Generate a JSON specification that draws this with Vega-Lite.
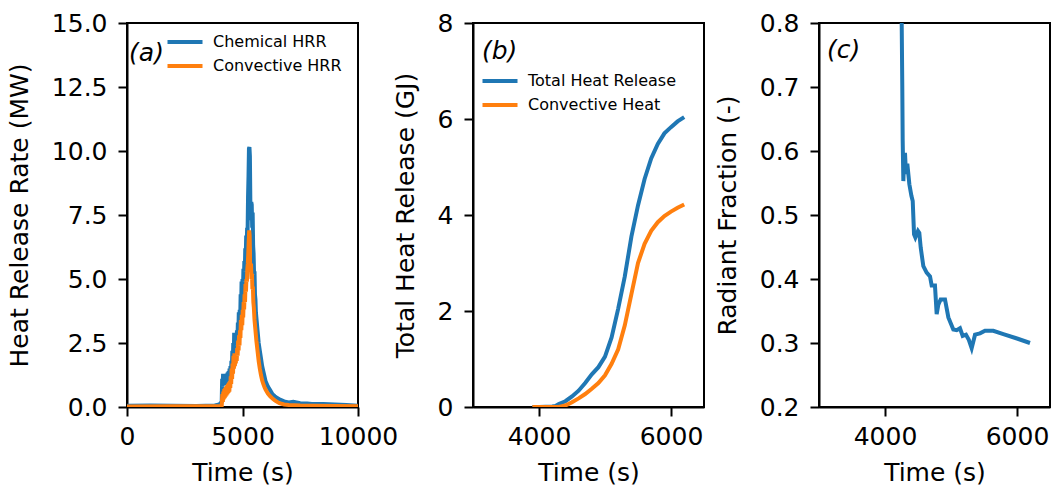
{
  "$schema": "https://vega.github.io/schema/vega-lite/v6.json",
  "padding": {"left": 6, "top": 10, "right": 0, "bottom": 0},
  "background": "white",
  "config": {
    "font": "DejaVu Sans",
    "view": {"stroke": "black", "strokeWidth": 2},
    "axis": {
      "grid": false,
      "domainColor": "black", "domainWidth": 2,
      "tickColor": "black", "tickWidth": 2, "tickSize": 9,
      "labelFontSize": 25, "titleFontSize": 25,
      "labelColor": "black", "titleColor": "black",
      "titleFontWeight": "normal",
      "labelFont": "DejaVu Sans", "titleFont": "DejaVu Sans",
      "labelFlush": false
    },
    "axisX": {"labelPadding": 8, "titlePadding": 11},
    "axisY": {"labelPadding": 11, "titlePadding": 19},
    "legend": {
      "labelFontSize": 16, "labelFont": "DejaVu Sans", "labelColor": "black",
      "symbolType": "M-1.75,0L1.75,0", "symbolStrokeWidth": 4, "symbolSize": 400,
      "labelOffset": 16, "rowPadding": 4, "padding": 0, "title": null,
      "orient": "none"
    },
    "line": {"strokeWidth": 4}
  },
  "datasets": {
    "hrr": [
      {"t": 0, "series": "Chemical HRR", "v": 0.05},
      {"t": 1000, "series": "Chemical HRR", "v": 0.06},
      {"t": 2000, "series": "Chemical HRR", "v": 0.05},
      {"t": 3000, "series": "Chemical HRR", "v": 0.04},
      {"t": 3800, "series": "Chemical HRR", "v": 0.06},
      {"t": 4000, "series": "Chemical HRR", "v": 0.1},
      {"t": 4100, "series": "Chemical HRR", "v": 0.2},
      {"t": 4120, "series": "Chemical HRR", "v": 1.1},
      {"t": 4140, "series": "Chemical HRR", "v": 0.8},
      {"t": 4160, "series": "Chemical HRR", "v": 1.3},
      {"t": 4180, "series": "Chemical HRR", "v": 0.9},
      {"t": 4200, "series": "Chemical HRR", "v": 1.2},
      {"t": 4220, "series": "Chemical HRR", "v": 0.85},
      {"t": 4240, "series": "Chemical HRR", "v": 1.25},
      {"t": 4260, "series": "Chemical HRR", "v": 0.9},
      {"t": 4280, "series": "Chemical HRR", "v": 1.2},
      {"t": 4300, "series": "Chemical HRR", "v": 0.95},
      {"t": 4320, "series": "Chemical HRR", "v": 1.3},
      {"t": 4340, "series": "Chemical HRR", "v": 1.0},
      {"t": 4360, "series": "Chemical HRR", "v": 1.35},
      {"t": 4380, "series": "Chemical HRR", "v": 1.05},
      {"t": 4400, "series": "Chemical HRR", "v": 1.4},
      {"t": 4420, "series": "Chemical HRR", "v": 1.1},
      {"t": 4440, "series": "Chemical HRR", "v": 1.5},
      {"t": 4460, "series": "Chemical HRR", "v": 1.2},
      {"t": 4480, "series": "Chemical HRR", "v": 1.6},
      {"t": 4500, "series": "Chemical HRR", "v": 1.3},
      {"t": 4520, "series": "Chemical HRR", "v": 1.8},
      {"t": 4540, "series": "Chemical HRR", "v": 1.5},
      {"t": 4560, "series": "Chemical HRR", "v": 2.2},
      {"t": 4580, "series": "Chemical HRR", "v": 1.7},
      {"t": 4600, "series": "Chemical HRR", "v": 2.5},
      {"t": 4620, "series": "Chemical HRR", "v": 1.9},
      {"t": 4640, "series": "Chemical HRR", "v": 2.9},
      {"t": 4660, "series": "Chemical HRR", "v": 2.1},
      {"t": 4680, "series": "Chemical HRR", "v": 2.9},
      {"t": 4700, "series": "Chemical HRR", "v": 2.2},
      {"t": 4720, "series": "Chemical HRR", "v": 2.7},
      {"t": 4740, "series": "Chemical HRR", "v": 2.4},
      {"t": 4760, "series": "Chemical HRR", "v": 3.0},
      {"t": 4780, "series": "Chemical HRR", "v": 2.6},
      {"t": 4800, "series": "Chemical HRR", "v": 3.3},
      {"t": 4820, "series": "Chemical HRR", "v": 2.8},
      {"t": 4840, "series": "Chemical HRR", "v": 3.7},
      {"t": 4860, "series": "Chemical HRR", "v": 3.1},
      {"t": 4880, "series": "Chemical HRR", "v": 3.8},
      {"t": 4900, "series": "Chemical HRR", "v": 3.4},
      {"t": 4920, "series": "Chemical HRR", "v": 4.4},
      {"t": 4940, "series": "Chemical HRR", "v": 3.8},
      {"t": 4960, "series": "Chemical HRR", "v": 4.9},
      {"t": 4980, "series": "Chemical HRR", "v": 4.2},
      {"t": 5000, "series": "Chemical HRR", "v": 5.0},
      {"t": 5020, "series": "Chemical HRR", "v": 4.5},
      {"t": 5040, "series": "Chemical HRR", "v": 5.4},
      {"t": 5060, "series": "Chemical HRR", "v": 4.9},
      {"t": 5080, "series": "Chemical HRR", "v": 5.7},
      {"t": 5100, "series": "Chemical HRR", "v": 5.3},
      {"t": 5120, "series": "Chemical HRR", "v": 6.2},
      {"t": 5140, "series": "Chemical HRR", "v": 5.8},
      {"t": 5160, "series": "Chemical HRR", "v": 6.7},
      {"t": 5180, "series": "Chemical HRR", "v": 6.2},
      {"t": 5200, "series": "Chemical HRR", "v": 7.0},
      {"t": 5220, "series": "Chemical HRR", "v": 6.8},
      {"t": 5240, "series": "Chemical HRR", "v": 8.2},
      {"t": 5260, "series": "Chemical HRR", "v": 9.0},
      {"t": 5280, "series": "Chemical HRR", "v": 10.1},
      {"t": 5300, "series": "Chemical HRR", "v": 10.15},
      {"t": 5320, "series": "Chemical HRR", "v": 9.8},
      {"t": 5340, "series": "Chemical HRR", "v": 8.0},
      {"t": 5360, "series": "Chemical HRR", "v": 7.3},
      {"t": 5380, "series": "Chemical HRR", "v": 8.0},
      {"t": 5400, "series": "Chemical HRR", "v": 7.9},
      {"t": 5420, "series": "Chemical HRR", "v": 7.0},
      {"t": 5440, "series": "Chemical HRR", "v": 7.6},
      {"t": 5460, "series": "Chemical HRR", "v": 6.3},
      {"t": 5480, "series": "Chemical HRR", "v": 6.0},
      {"t": 5500, "series": "Chemical HRR", "v": 5.2},
      {"t": 5520, "series": "Chemical HRR", "v": 5.3},
      {"t": 5540, "series": "Chemical HRR", "v": 4.4},
      {"t": 5560, "series": "Chemical HRR", "v": 4.2},
      {"t": 5580, "series": "Chemical HRR", "v": 3.7},
      {"t": 5600, "series": "Chemical HRR", "v": 3.5},
      {"t": 5650, "series": "Chemical HRR", "v": 3.0},
      {"t": 5700, "series": "Chemical HRR", "v": 2.5},
      {"t": 5750, "series": "Chemical HRR", "v": 2.2},
      {"t": 5800, "series": "Chemical HRR", "v": 1.9},
      {"t": 5850, "series": "Chemical HRR", "v": 1.6},
      {"t": 5900, "series": "Chemical HRR", "v": 1.4},
      {"t": 5950, "series": "Chemical HRR", "v": 1.2},
      {"t": 6000, "series": "Chemical HRR", "v": 1.0},
      {"t": 6100, "series": "Chemical HRR", "v": 0.8},
      {"t": 6200, "series": "Chemical HRR", "v": 0.65},
      {"t": 6300, "series": "Chemical HRR", "v": 0.5},
      {"t": 6400, "series": "Chemical HRR", "v": 0.42},
      {"t": 6500, "series": "Chemical HRR", "v": 0.35},
      {"t": 6600, "series": "Chemical HRR", "v": 0.3},
      {"t": 6800, "series": "Chemical HRR", "v": 0.22},
      {"t": 7000, "series": "Chemical HRR", "v": 0.18},
      {"t": 7200, "series": "Chemical HRR", "v": 0.2},
      {"t": 7500, "series": "Chemical HRR", "v": 0.15},
      {"t": 7800, "series": "Chemical HRR", "v": 0.14},
      {"t": 8000, "series": "Chemical HRR", "v": 0.12},
      {"t": 8500, "series": "Chemical HRR", "v": 0.12},
      {"t": 9000, "series": "Chemical HRR", "v": 0.1},
      {"t": 9500, "series": "Chemical HRR", "v": 0.08},
      {"t": 10000, "series": "Chemical HRR", "v": 0.05},
      {"t": 0, "series": "Convective HRR", "v": 0.02},
      {"t": 2000, "series": "Convective HRR", "v": 0.03},
      {"t": 4000, "series": "Convective HRR", "v": 0.03},
      {"t": 4100, "series": "Convective HRR", "v": 0.05},
      {"t": 4130, "series": "Convective HRR", "v": 0.5},
      {"t": 4150, "series": "Convective HRR", "v": 0.2},
      {"t": 4170, "series": "Convective HRR", "v": 0.6},
      {"t": 4190, "series": "Convective HRR", "v": 0.3},
      {"t": 4210, "series": "Convective HRR", "v": 0.7},
      {"t": 4230, "series": "Convective HRR", "v": 0.35},
      {"t": 4250, "series": "Convective HRR", "v": 0.75},
      {"t": 4270, "series": "Convective HRR", "v": 0.4},
      {"t": 4290, "series": "Convective HRR", "v": 0.8},
      {"t": 4310, "series": "Convective HRR", "v": 0.45},
      {"t": 4330, "series": "Convective HRR", "v": 0.85},
      {"t": 4350, "series": "Convective HRR", "v": 0.5},
      {"t": 4370, "series": "Convective HRR", "v": 0.9},
      {"t": 4390, "series": "Convective HRR", "v": 0.55},
      {"t": 4410, "series": "Convective HRR", "v": 0.95},
      {"t": 4430, "series": "Convective HRR", "v": 0.6},
      {"t": 4450, "series": "Convective HRR", "v": 1.0},
      {"t": 4470, "series": "Convective HRR", "v": 0.75},
      {"t": 4490, "series": "Convective HRR", "v": 1.2},
      {"t": 4510, "series": "Convective HRR", "v": 0.9},
      {"t": 4530, "series": "Convective HRR", "v": 1.5},
      {"t": 4550, "series": "Convective HRR", "v": 1.1},
      {"t": 4570, "series": "Convective HRR", "v": 1.7},
      {"t": 4590, "series": "Convective HRR", "v": 1.3},
      {"t": 4610, "series": "Convective HRR", "v": 2.0},
      {"t": 4630, "series": "Convective HRR", "v": 1.5},
      {"t": 4650, "series": "Convective HRR", "v": 2.1},
      {"t": 4670, "series": "Convective HRR", "v": 1.6},
      {"t": 4690, "series": "Convective HRR", "v": 2.0},
      {"t": 4710, "series": "Convective HRR", "v": 1.7},
      {"t": 4730, "series": "Convective HRR", "v": 2.1},
      {"t": 4750, "series": "Convective HRR", "v": 1.8},
      {"t": 4770, "series": "Convective HRR", "v": 2.3},
      {"t": 4790, "series": "Convective HRR", "v": 2.0},
      {"t": 4810, "series": "Convective HRR", "v": 2.6},
      {"t": 4830, "series": "Convective HRR", "v": 2.2},
      {"t": 4850, "series": "Convective HRR", "v": 2.8},
      {"t": 4870, "series": "Convective HRR", "v": 2.4},
      {"t": 4890, "series": "Convective HRR", "v": 3.0},
      {"t": 4910, "series": "Convective HRR", "v": 2.7},
      {"t": 4930, "series": "Convective HRR", "v": 3.4},
      {"t": 4950, "series": "Convective HRR", "v": 3.0},
      {"t": 4970, "series": "Convective HRR", "v": 3.6},
      {"t": 4990, "series": "Convective HRR", "v": 3.2},
      {"t": 5010, "series": "Convective HRR", "v": 3.8},
      {"t": 5030, "series": "Convective HRR", "v": 3.5},
      {"t": 5050, "series": "Convective HRR", "v": 4.1},
      {"t": 5070, "series": "Convective HRR", "v": 3.8},
      {"t": 5090, "series": "Convective HRR", "v": 4.4},
      {"t": 5110, "series": "Convective HRR", "v": 4.1},
      {"t": 5130, "series": "Convective HRR", "v": 4.8},
      {"t": 5150, "series": "Convective HRR", "v": 4.5},
      {"t": 5170, "series": "Convective HRR", "v": 5.0},
      {"t": 5190, "series": "Convective HRR", "v": 4.9},
      {"t": 5210, "series": "Convective HRR", "v": 5.4},
      {"t": 5230, "series": "Convective HRR", "v": 5.6},
      {"t": 5250, "series": "Convective HRR", "v": 6.0},
      {"t": 5270, "series": "Convective HRR", "v": 6.5},
      {"t": 5290, "series": "Convective HRR", "v": 6.9},
      {"t": 5310, "series": "Convective HRR", "v": 6.7},
      {"t": 5330, "series": "Convective HRR", "v": 5.5},
      {"t": 5350, "series": "Convective HRR", "v": 5.3},
      {"t": 5370, "series": "Convective HRR", "v": 5.6},
      {"t": 5390, "series": "Convective HRR", "v": 5.0},
      {"t": 5410, "series": "Convective HRR", "v": 5.2},
      {"t": 5430, "series": "Convective HRR", "v": 4.6},
      {"t": 5450, "series": "Convective HRR", "v": 4.7},
      {"t": 5470, "series": "Convective HRR", "v": 4.1},
      {"t": 5490, "series": "Convective HRR", "v": 3.9},
      {"t": 5520, "series": "Convective HRR", "v": 3.4},
      {"t": 5550, "series": "Convective HRR", "v": 3.1},
      {"t": 5600, "series": "Convective HRR", "v": 2.6},
      {"t": 5650, "series": "Convective HRR", "v": 2.2},
      {"t": 5700, "series": "Convective HRR", "v": 1.8},
      {"t": 5750, "series": "Convective HRR", "v": 1.5},
      {"t": 5800, "series": "Convective HRR", "v": 1.25},
      {"t": 5850, "series": "Convective HRR", "v": 1.05},
      {"t": 5900, "series": "Convective HRR", "v": 0.9},
      {"t": 5950, "series": "Convective HRR", "v": 0.78},
      {"t": 6000, "series": "Convective HRR", "v": 0.68},
      {"t": 6100, "series": "Convective HRR", "v": 0.52},
      {"t": 6200, "series": "Convective HRR", "v": 0.42},
      {"t": 6300, "series": "Convective HRR", "v": 0.33},
      {"t": 6400, "series": "Convective HRR", "v": 0.26},
      {"t": 6500, "series": "Convective HRR", "v": 0.2},
      {"t": 6600, "series": "Convective HRR", "v": 0.15},
      {"t": 6800, "series": "Convective HRR", "v": 0.1},
      {"t": 7000, "series": "Convective HRR", "v": 0.08},
      {"t": 7500, "series": "Convective HRR", "v": 0.06},
      {"t": 8000, "series": "Convective HRR", "v": 0.05},
      {"t": 9000, "series": "Convective HRR", "v": 0.04},
      {"t": 10000, "series": "Convective HRR", "v": 0.03}
    ],
    "heat": [
      {"t": 3900, "series": "Total Heat Release", "v": 0},
      {"t": 4000, "series": "Total Heat Release", "v": 0},
      {"t": 4100, "series": "Total Heat Release", "v": 0.005},
      {"t": 4200, "series": "Total Heat Release", "v": 0.01},
      {"t": 4250, "series": "Total Heat Release", "v": 0.02},
      {"t": 4300, "series": "Total Heat Release", "v": 0.06},
      {"t": 4400, "series": "Total Heat Release", "v": 0.12},
      {"t": 4500, "series": "Total Heat Release", "v": 0.22},
      {"t": 4600, "series": "Total Heat Release", "v": 0.34},
      {"t": 4700, "series": "Total Heat Release", "v": 0.5},
      {"t": 4800, "series": "Total Heat Release", "v": 0.68},
      {"t": 4900, "series": "Total Heat Release", "v": 0.83},
      {"t": 5000, "series": "Total Heat Release", "v": 1.05},
      {"t": 5100, "series": "Total Heat Release", "v": 1.45},
      {"t": 5200, "series": "Total Heat Release", "v": 2.05},
      {"t": 5300, "series": "Total Heat Release", "v": 2.72},
      {"t": 5400, "series": "Total Heat Release", "v": 3.55},
      {"t": 5500, "series": "Total Heat Release", "v": 4.2},
      {"t": 5600, "series": "Total Heat Release", "v": 4.75},
      {"t": 5700, "series": "Total Heat Release", "v": 5.18},
      {"t": 5800, "series": "Total Heat Release", "v": 5.48},
      {"t": 5900, "series": "Total Heat Release", "v": 5.7},
      {"t": 6000, "series": "Total Heat Release", "v": 5.83},
      {"t": 6100, "series": "Total Heat Release", "v": 5.95},
      {"t": 6200, "series": "Total Heat Release", "v": 6.04},
      {"t": 3900, "series": "Convective Heat", "v": 0},
      {"t": 4300, "series": "Convective Heat", "v": 0},
      {"t": 4400, "series": "Convective Heat", "v": 0.03},
      {"t": 4500, "series": "Convective Heat", "v": 0.1},
      {"t": 4600, "series": "Convective Heat", "v": 0.18},
      {"t": 4700, "series": "Convective Heat", "v": 0.27},
      {"t": 4800, "series": "Convective Heat", "v": 0.38},
      {"t": 4900, "series": "Convective Heat", "v": 0.5},
      {"t": 5000, "series": "Convective Heat", "v": 0.66},
      {"t": 5100, "series": "Convective Heat", "v": 0.9},
      {"t": 5200, "series": "Convective Heat", "v": 1.2},
      {"t": 5300, "series": "Convective Heat", "v": 1.7},
      {"t": 5400, "series": "Convective Heat", "v": 2.35},
      {"t": 5500, "series": "Convective Heat", "v": 3.0},
      {"t": 5600, "series": "Convective Heat", "v": 3.4},
      {"t": 5700, "series": "Convective Heat", "v": 3.67},
      {"t": 5800, "series": "Convective Heat", "v": 3.85},
      {"t": 5900, "series": "Convective Heat", "v": 3.98},
      {"t": 6000, "series": "Convective Heat", "v": 4.07},
      {"t": 6100, "series": "Convective Heat", "v": 4.15},
      {"t": 6200, "series": "Convective Heat", "v": 4.22}
    ],
    "rad": [
      {"t": 4250, "v": 0.85},
      {"t": 4253, "v": 0.8},
      {"t": 4262, "v": 0.7},
      {"t": 4268, "v": 0.616},
      {"t": 4278, "v": 0.553},
      {"t": 4290, "v": 0.59},
      {"t": 4303, "v": 0.597},
      {"t": 4318, "v": 0.564},
      {"t": 4338, "v": 0.58},
      {"t": 4369, "v": 0.548},
      {"t": 4400, "v": 0.53},
      {"t": 4420, "v": 0.522},
      {"t": 4440, "v": 0.47},
      {"t": 4460, "v": 0.465},
      {"t": 4480, "v": 0.47},
      {"t": 4500, "v": 0.475},
      {"t": 4520, "v": 0.472},
      {"t": 4541, "v": 0.449},
      {"t": 4581, "v": 0.42},
      {"t": 4631, "v": 0.41},
      {"t": 4682, "v": 0.404},
      {"t": 4707, "v": 0.39},
      {"t": 4757, "v": 0.39},
      {"t": 4783, "v": 0.345},
      {"t": 4808, "v": 0.36},
      {"t": 4843, "v": 0.368},
      {"t": 4909, "v": 0.368},
      {"t": 4960, "v": 0.34},
      {"t": 5035, "v": 0.321},
      {"t": 5086, "v": 0.32},
      {"t": 5136, "v": 0.323},
      {"t": 5177, "v": 0.311},
      {"t": 5227, "v": 0.313},
      {"t": 5270, "v": 0.305},
      {"t": 5313, "v": 0.292},
      {"t": 5364, "v": 0.313},
      {"t": 5439, "v": 0.315},
      {"t": 5515, "v": 0.319},
      {"t": 5641, "v": 0.319},
      {"t": 5793, "v": 0.314},
      {"t": 6000, "v": 0.307},
      {"t": 6197, "v": 0.3}
    ]
  },
  "bounds": "flush",
  "spacing": 115,
  "resolve": {"scale": {"color": "independent"}, "legend": {"color": "independent"}},
  "hconcat": [
    {
      "width": 231, "height": 384,
      "layer": [
        {
          "data": {"name": "hrr"},
          "mark": {"type": "line", "clip": true},
          "encoding": {
            "x": {"field": "t", "type": "quantitative", "scale": {"domain": [0, 10000], "nice": false},
                  "axis": {"values": [0, 5000, 10000], "title": "Time (s)", "format": "d"}},
            "y": {"field": "v", "type": "quantitative", "scale": {"domain": [0, 15], "nice": false},
                  "axis": {"values": [0, 2.5, 5, 7.5, 10, 12.5, 15], "format": ".1f", "title": "Heat Release Rate (MW)"}},
            "color": {"field": "series", "type": "nominal",
                      "scale": {"domain": ["Chemical HRR", "Convective HRR"], "range": ["#1f77b4", "#ff7f0e"]},
                      "legend": {"legendX": 46, "legendY": 7}}
          }
        },
        {
          "data": {"values": [{"label": "(a)"}]},
          "mark": {"type": "text", "align": "left", "baseline": "middle", "fontSize": 25, "fontStyle": "italic", "font": "DejaVu Sans", "color": "black"},
          "encoding": {
            "x": {"datum": 90, "type": "quantitative"},
            "y": {"datum": 13.83, "type": "quantitative"},
            "text": {"field": "label"}
          }
        }
      ]
    },
    {
      "width": 231, "height": 384,
      "layer": [
        {
          "data": {"name": "heat"},
          "mark": {"type": "line", "clip": true},
          "encoding": {
            "x": {"field": "t", "type": "quantitative", "scale": {"domain": [3000, 6500], "nice": false},
                  "axis": {"values": [4000, 6000], "title": "Time (s)", "format": "d"}},
            "y": {"field": "v", "type": "quantitative", "scale": {"domain": [0, 8], "nice": false},
                  "axis": {"values": [0, 2, 4, 6, 8], "format": "d", "title": "Total Heat Release (GJ)"}},
            "color": {"field": "series", "type": "nominal",
                      "scale": {"domain": ["Total Heat Release", "Convective Heat"], "range": ["#1f77b4", "#ff7f0e"]},
                      "legend": {"legendX": 15, "legendY": 46}}
          }
        },
        {
          "data": {"values": [{"label": "(b)"}]},
          "mark": {"type": "text", "align": "left", "baseline": "middle", "fontSize": 25, "fontStyle": "italic", "font": "DejaVu Sans", "color": "black"},
          "encoding": {
            "x": {"datum": 3136, "type": "quantitative"},
            "y": {"datum": 7.42, "type": "quantitative"},
            "text": {"field": "label"}
          }
        }
      ]
    },
    {
      "width": 231, "height": 384,
      "layer": [
        {
          "data": {"name": "rad"},
          "mark": {"type": "line", "clip": true, "color": "#1f77b4"},
          "encoding": {
            "x": {"field": "t", "type": "quantitative", "scale": {"domain": [3000, 6500], "nice": false},
                  "axis": {"values": [4000, 6000], "title": "Time (s)", "format": "d"}},
            "y": {"field": "v", "type": "quantitative", "scale": {"domain": [0.2, 0.8], "nice": false},
                  "axis": {"values": [0.2, 0.3, 0.4, 0.5, 0.6, 0.7, 0.8], "format": ".1f", "title": "Radiant Fraction (-)"}}
          }
        },
        {
          "data": {"values": [{"label": "(c)"}]},
          "mark": {"type": "text", "align": "left", "baseline": "middle", "fontSize": 25, "fontStyle": "italic", "font": "DejaVu Sans", "color": "black"},
          "encoding": {
            "x": {"datum": 3121, "type": "quantitative"},
            "y": {"datum": 0.758, "type": "quantitative"},
            "text": {"field": "label"}
          }
        }
      ]
    }
  ]
}
